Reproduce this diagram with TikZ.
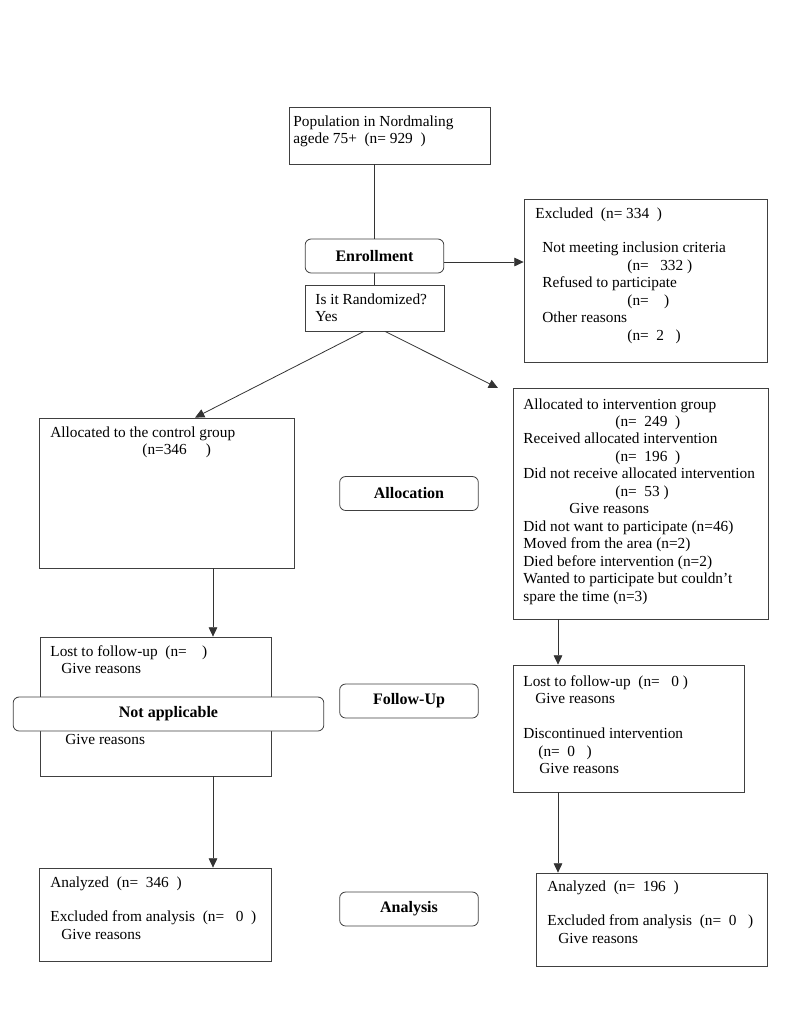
\documentclass[tikz,border=0pt]{standalone}
\usepackage{fontspec}
\setmainfont{Liberation Serif}
\usetikzlibrary{positioning, arrows.meta, fit}

\tikzset{
  box/.style={draw=black!75, line width=0.6pt, inner sep=0pt},
  stage/.style={draw=black!75, line width=0.6pt, rounded corners=4.5pt, fill=white, inner sep=0pt,
    minimum width=104pt, minimum height=25.5pt, font=\bfseries\fontsize{12}{14}\selectfont},
  txt/.style={anchor=north west, inner sep=0pt, align=left},
}

\begin{document}
\begin{tikzpicture}[x=0.75pt, y=-0.75pt, >={Triangle[length=7pt,width=6.5pt]}, line width=0.6pt, draw=black!80,
    font=\fontsize{11.5}{13.1}\selectfont]
      \useasboundingbox (0,0) rectangle (785,1015);

      % Boxes
      \node[box, fit={(289,107) (490,164)}] (pop) {};
      \node[box, fit={(524,199) (767,362)}] (excl) {};
      \node[box, fit={(305,285) (444,331)}] (rand) {};
      \node[box, fit={(39,418) (294,568)}] (ctrl) {};
      \node[box, fit={(513,388) (768,619)}] (int) {};
      \node[box, fit={(40,637) (271,776)}] (lostL) {};
      \node[box, fit={(513,665) (744,792)}] (lostR) {};
      \node[box, fit={(39,868) (271,961)}] (anaL) {};
      \node[box, fit={(536,873) (767,966)}] (anaR) {};

      % Stages
      \node[stage] (enroll) at (374.5,256) {Enrollment};
      \node[stage] (alloc) at (409,493.5) {Allocation};
      \node[stage] (follow) at (409,701) {Follow-Up};
      \node[stage] (analysis) at (409,909) {Analysis};
      \node[stage, minimum width=233pt] (notapp) at (168.5,714) {Not applicable};

      % Texts
      \node[txt] (popT) at (293,115) {Population in Nordmaling\\agede 75+~~(n=~929~~)};
      \node[txt] (exclT) at (535,207) {Excluded~~(n=~334~~)\\[13.1pt]
        \hspace*{5.25pt}Not meeting inclusion criteria\\
        \hspace*{69pt}(n=~~~332~)\\
        \hspace*{5.25pt}Refused to participate\\
        \hspace*{69pt}(n=~~~~)\\
        \hspace*{5.25pt}Other reasons\\
        \hspace*{69pt}(n=~~2~~~)};
      \node[txt] (randT) at (315,293) {Is it Randomized?\\Yes};
      \node[txt] (ctrlT) at (50,426) {Allocated to the control group\\\hspace*{69pt}(n=346~~~~~)};
      \node[txt] (intT) at (523,398) {Allocated to intervention group\\
        \hspace*{69pt}(n=~~249~~)\\
        Received allocated intervention\\
        \hspace*{69pt}(n=~~196~~)\\
        Did not receive allocated intervention\\
        \hspace*{69pt}(n=~~53~)\\
        \hspace*{34.5pt}Give reasons\\
        Did not want to participate (n=46)\\
        Moved from the area (n=2)\\
        Died before intervention (n=2)\\
        Wanted to participate but couldn’t\\
        spare the time (n=3)};
      \node[txt] (lostLT) at (50,645) {Lost to follow-up~~(n=~~~~)\\\hspace*{8.25pt}Give reasons};
      \node[txt] (lostLT2) at (65,734) {Give reasons};
      \node[txt] (lostRT) at (523,675) {Lost to follow-up~~(n=~~~0~)\\
        \hspace*{9pt}Give reasons\\[13.1pt]
        Discontinued intervention\\
        \hspace*{11.25pt}(n=~~0~~~)\\
        \hspace*{12pt}Give reasons};
      \node[txt] (anaLT) at (50,876) {Analyzed~~(n=~~346~~)\\[13.1pt]
        Excluded from analysis~~(n=~~~0~~)\\
        \hspace*{8.25pt}Give reasons};
      \node[txt] (anaRT) at (547,880) {Analyzed~~(n=~~196~~)\\[13.1pt]
        Excluded from analysis~~(n=~~0~~~)\\
        \hspace*{8.25pt}Give reasons};

      % Columns
      \coordinate (colL) at (213,0);
      \coordinate (colR) at (558,0);
      \coordinate (intTip) at (498,388);

      % Edges
      \draw (enroll.north) -- (enroll.north |- pop.south);
      \draw (enroll.south) -- (rand.north);
      \draw[->] ([yshift=-4.5pt]enroll.east) -- ([yshift=-4.5pt]enroll.east -| excl.west);
      \draw[->] ([xshift=-7.9pt]rand.south) -- ([xshift=21.4pt]ctrl.north);
      \draw[->] ([xshift=7.9pt]rand.south) -- (intTip);
      \draw[->] (ctrl.south -| colL) -- (lostL.north -| colL);
      \draw[->] (lostL.south -| colL) -- (anaL.north -| colL);
      \draw[->] (int.south -| colR) -- (lostR.north -| colR);
      \draw[->] (lostR.south -| colR) -- (anaR.north -| colR);
    \end{tikzpicture}
\end{document}
